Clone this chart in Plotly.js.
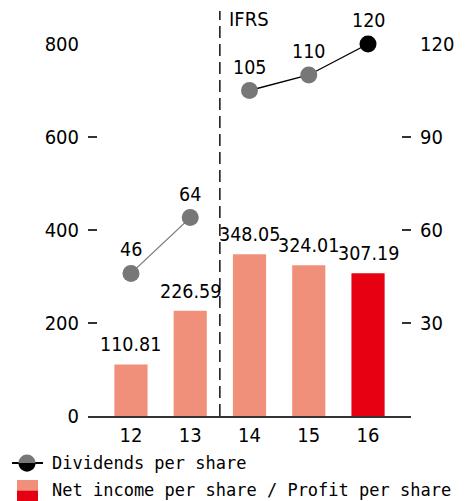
<!DOCTYPE html>
<html><head><meta charset="utf-8">
<script src="https://cdn.plot.ly/plotly-3.0.1.min.js"></script>
<style>html,body{margin:0;padding:0;background:#fff;}#chart{width:466px;height:501px;}</style>
</head><body><div id="chart"></div>
<script>
// ---- data ----
var categories = ['12', '13', '14', '15', '16'];
var netIncome = [110.81, 226.59, 348.05, 324.01, 307.19];
var netIncomeLabels = ['110.81', '226.59', '348.05', '324.01', '307.19'];
var dividendsJGAAP = [46, 64];          // years 12-13
var dividendsIFRS = [105, 110, 120];    // years 14-16
var leftTicks = [0, 200, 400, 600, 800];
var rightTicks = [30, 60, 90, 120];
var legendNames = ['Dividends per share', 'Net income per share / Profit per share'];
var ifrsLabel = 'IFRS';

// ---- styles ----
var SALMON = '#F0907B', RED = '#E60012', GRAY = '#777777', BLACK = '#000000';
var FONT = 'Liberation Sans Narrow, DejaVu Sans Condensed, Liberation Sans, sans-serif';
var MONO = 'DejaVu Sans Mono, Liberation Mono, monospace';
var W = 466, H = 501, L = 88, R = 55, T = 44, B = 85;
var PW = W - L - R, PH = H - T - B;
function px(x) { return (x - L) / PW; }
function py(y) { return (H - B - y) / PH; }

var nJ = dividendsJGAAP.length;
var barColors = netIncome.map(function (v, i) { return i === netIncome.length - 1 ? RED : SALMON; });
var jCats = categories.slice(0, nJ);
var iCats = categories.slice(nJ);
var iColors = dividendsIFRS.map(function (v, i) { return i === dividendsIFRS.length - 1 ? BLACK : GRAY; });

var traces = [
  { type: 'bar', x: categories, y: netIncome, marker: { color: barColors }, width: 0.56,
    hoverinfo: 'x+y', showlegend: false, cliponaxis: false },
  { type: 'scatter', mode: 'lines+markers', x: jCats, y: dividendsJGAAP, yaxis: 'y2', cliponaxis: false,
    line: { color: GRAY, width: 1.3 }, marker: { color: GRAY, size: 17 }, showlegend: false },
  { type: 'scatter', mode: 'lines+markers', x: iCats, y: dividendsIFRS, yaxis: 'y2', cliponaxis: false,
    line: { color: BLACK, width: 1.3 }, marker: { color: iColors, size: 17 }, showlegend: false }
];

var LBL = { family: FONT, size: 19.5, color: '#000' };
var annotations = [];
netIncome.forEach(function (v, i) {
  annotations.push({ x: i, y: v, xref: 'x', yref: 'y', text: netIncomeLabels[i],
    showarrow: false, yanchor: 'bottom', yshift: 6, font: LBL });
});
dividendsJGAAP.forEach(function (v, i) {
  annotations.push({ x: i, y: v, xref: 'x', yref: 'y2', text: String(v),
    showarrow: false, yanchor: 'bottom', yshift: 10, font: LBL });
});
dividendsIFRS.forEach(function (v, i) {
  annotations.push({ x: nJ + i, y: v, xref: 'x', yref: 'y2', text: String(v),
    showarrow: false, yanchor: 'bottom', yshift: 10, font: LBL });
});
annotations.push({ x: px(227), y: py(19), xref: 'paper', yref: 'paper', text: ifrsLabel, showarrow: false,
  xanchor: 'left', yanchor: 'middle', font: { family: FONT, size: 20, color: '#000' } });
annotations.push({ x: px(50), y: py(463), xref: 'paper', yref: 'paper', text: legendNames[0], showarrow: false,
  xanchor: 'left', yanchor: 'middle', font: { family: MONO, size: 17, color: '#000' } });
annotations.push({ x: px(50), y: py(490), xref: 'paper', yref: 'paper', text: legendNames[1], showarrow: false,
  xanchor: 'left', yanchor: 'middle', font: { family: MONO, size: 17, color: '#000' } });

// half-disc polygon (bottom half) in pixel units relative to anchor
function halfDisc(r) {
  var s = 'M ' + (-r) + ',0';
  for (var k = 1; k <= 24; k++) {
    var a = Math.PI + Math.PI * k / 24;
    s += ' L ' + (r * Math.cos(a)).toFixed(2) + ',' + (r * Math.sin(a)).toFixed(2);
  }
  return s + ' Z';
}

var shapes = [
  // IFRS divider
  { type: 'line', xref: 'x', yref: 'paper', x0: nJ - 0.5, x1: nJ - 0.5, y0: 0, y1: py(11),
    line: { color: '#000', width: 1.4, dash: '12px,6px' } },
  // legend: dividends symbol
  { type: 'line', xref: 'paper', yref: 'paper', x0: px(12), x1: px(43), y0: py(463), y1: py(463),
    line: { color: '#000', width: 2 } },
  { type: 'circle', xref: 'paper', yref: 'paper', xsizemode: 'pixel', ysizemode: 'pixel',
    xanchor: px(27), yanchor: py(463), x0: -8.5, x1: 8.5, y0: -8.5, y1: 8.5,
    fillcolor: GRAY, line: { width: 0 } },
  { type: 'path', xref: 'paper', yref: 'paper', xsizemode: 'pixel', ysizemode: 'pixel',
    xanchor: px(27), yanchor: py(463), path: halfDisc(8.5), fillcolor: BLACK, line: { width: 0 } },
  // legend: bars symbol
  { type: 'rect', xref: 'paper', yref: 'paper', x0: px(17), x1: px(38), y0: py(480), y1: py(490.5),
    fillcolor: SALMON, line: { width: 0 } },
  { type: 'rect', xref: 'paper', yref: 'paper', x0: px(17), x1: px(38), y0: py(490.5), y1: py(501),
    fillcolor: RED, line: { width: 0 } }
];

var TICK = { family: FONT, size: 20, color: '#000' };
var layout = {
  width: W, height: H,
  margin: { l: L, r: R, t: T, b: B, pad: 0 },
  paper_bgcolor: '#fff', plot_bgcolor: '#fff',
  font: { family: FONT, size: 20, color: '#000' },
  showlegend: false,
  xaxis: { type: 'category', range: [-0.725, 4.725], showline: true, linecolor: '#333', linewidth: 1.5,
    ticks: '', showgrid: false, zeroline: false, fixedrange: true, tickfont: TICK },
  yaxis: { range: [0, 800], tickvals: leftTicks, ticktext: leftTicks.map(String), ticks: 'inside', ticklen: 9,
    tickcolor: '#333', tickwidth: 1.2, showgrid: false, zeroline: false, showline: false,
    ticklabelstandoff: 8, tickfont: TICK, fixedrange: true },
  yaxis2: { range: [0, 120], overlaying: 'y', side: 'right', tickvals: rightTicks,
    ticktext: rightTicks.map(String), ticks: 'inside', ticklen: 9, tickcolor: '#333', tickwidth: 1.2,
    showgrid: false, zeroline: false, showline: false, ticklabelstandoff: 8,
    tickfont: TICK, fixedrange: true },
  annotations: annotations,
  shapes: shapes
};

Plotly.newPlot('chart', traces, layout, { displayModeBar: false, staticPlot: true });
</script></body></html>
